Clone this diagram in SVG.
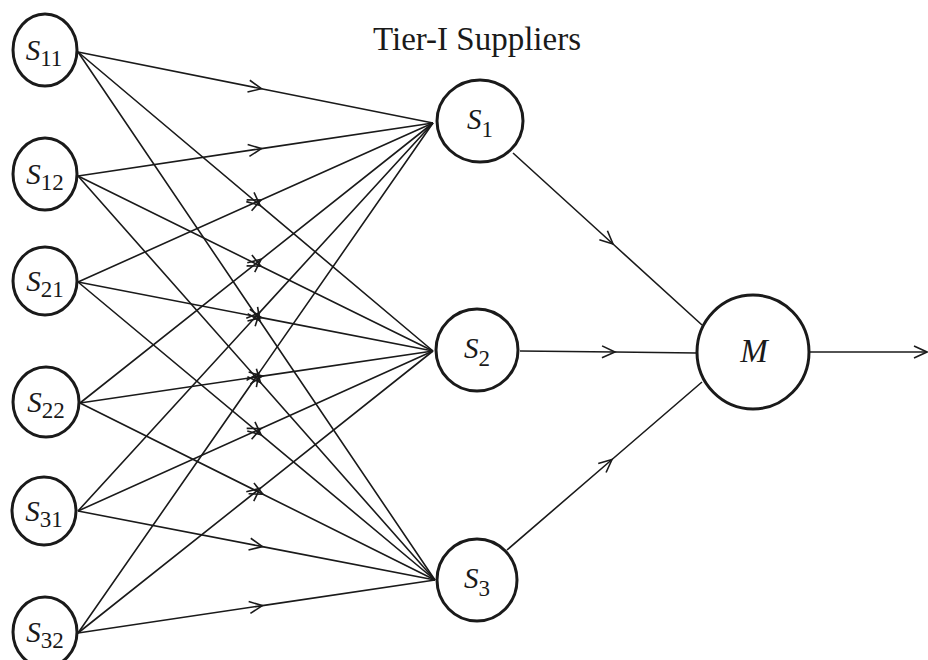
<svg xmlns="http://www.w3.org/2000/svg" width="928" height="660" viewBox="0 0 928 660">
<style>
.node{fill:#fff;stroke:#1a1a1a;stroke-width:3}
.edge{fill:none;stroke:#1a1a1a;stroke-width:1.6;marker-mid:url(#chev)}
.lbl{font-family:"Liberation Serif",serif;font-style:italic;font-size:29px;fill:#1a1a1a;text-anchor:middle}
.sub{font-style:normal;font-size:23px}
.title{font-family:"Liberation Serif",serif;font-size:33px;fill:#1a1a1a;text-anchor:middle}
</style>
<defs>
<marker id="chev" markerUnits="userSpaceOnUse" orient="auto" markerWidth="20" markerHeight="20" refX="0" refY="0" viewBox="-16 -10 20 20" overflow="visible">
<path d="M-13,-6 L0,0 L-13,6" fill="none" stroke="#1a1a1a" stroke-width="1.6"/>
</marker>
</defs>
<rect width="928" height="660" fill="#fff"/>
<text class="title" x="477" y="50">Tier-I Suppliers</text>
<g id="connectors">
<polyline class="edge" points="78,52 261.4,88.7 433,123"/>
<polyline class="edge" points="78,52 260.1,205.4 433,351"/>
<polyline class="edge" points="78,52 259.9,321 435,580"/>
<polyline class="edge" points="78,176 261.4,148.6 433,123"/>
<polyline class="edge" points="78,176 260.9,266.2 433,351"/>
<polyline class="edge" points="78,176 260.5,382.5 435,580"/>
<polyline class="edge" points="78,282 261,200 433,123"/>
<polyline class="edge" points="78,282 261.4,317.6 433,351"/>
<polyline class="edge" points="78,282 261.1,434.8 435,580"/>
<polyline class="edge" points="80,403 261.2,259.3 433,123"/>
<polyline class="edge" points="80,403 262.4,376.1 433,351"/>
<polyline class="edge" points="80,403 262.9,494.2 435,580"/>
<polyline class="edge" points="78,511 259.5,312.6 433,123"/>
<polyline class="edge" points="78,511 261,428.5 433,351"/>
<polyline class="edge" points="78,511 262.4,546.6 435,580"/>
<polyline class="edge" points="78,633 258.9,373.1 433,123"/>
<polyline class="edge" points="78,633 260.2,488.3 433,351"/>
<polyline class="edge" points="78,633 262.4,605.6 435,580"/>
<polyline class="edge" points="513,153 613,244 702,325"/>
<polyline class="edge" points="520,351 615,352 697,353"/>
<polyline class="edge" points="507,550 612,459.5 702,382"/>
<polyline class="edge" points="810,352 927,352"/>
<path d="M914,346 L927,352 L914,358" fill="none" stroke="#1a1a1a" stroke-width="1.6"/>
</g>
<g id="S11"><ellipse class="node" cx="45" cy="50" rx="32" ry="36"/><text class="lbl" x="44" y="60">S<tspan class="sub" dy="6">11</tspan></text></g>
<g id="S12"><ellipse class="node" cx="45" cy="174" rx="32" ry="36"/><text class="lbl" x="45" y="184">S<tspan class="sub" dy="6">12</tspan></text></g>
<g id="S21"><ellipse class="node" cx="45" cy="281" rx="32" ry="34"/><text class="lbl" x="45" y="291">S<tspan class="sub" dy="6">21</tspan></text></g>
<g id="S22"><ellipse class="node" cx="46" cy="402" rx="33" ry="35"/><text class="lbl" x="46" y="412">S<tspan class="sub" dy="6">22</tspan></text></g>
<g id="S31"><ellipse class="node" cx="44" cy="511" rx="32" ry="34"/><text class="lbl" x="44" y="521">S<tspan class="sub" dy="6">31</tspan></text></g>
<g id="S32"><ellipse class="node" cx="45" cy="632" rx="32" ry="35"/><text class="lbl" x="45" y="642">S<tspan class="sub" dy="6">32</tspan></text></g>
<g id="S1"><ellipse class="node" cx="480" cy="121" rx="43" ry="41"/><text class="lbl" x="480" y="129">S<tspan class="sub" dy="8">1</tspan></text></g>
<g id="S2"><ellipse class="node" cx="477" cy="350" rx="41" ry="41"/><text class="lbl" x="477" y="358">S<tspan class="sub" dy="8">2</tspan></text></g>
<g id="S3"><ellipse class="node" cx="477" cy="580" rx="40" ry="41"/><text class="lbl" x="477" y="588">S<tspan class="sub" dy="8">3</tspan></text></g>
<g id="M"><ellipse class="node" cx="753" cy="352" rx="56" ry="57"/><text class="lbl" x="754" y="362" style="font-size:33px">M</text></g>
</svg>
